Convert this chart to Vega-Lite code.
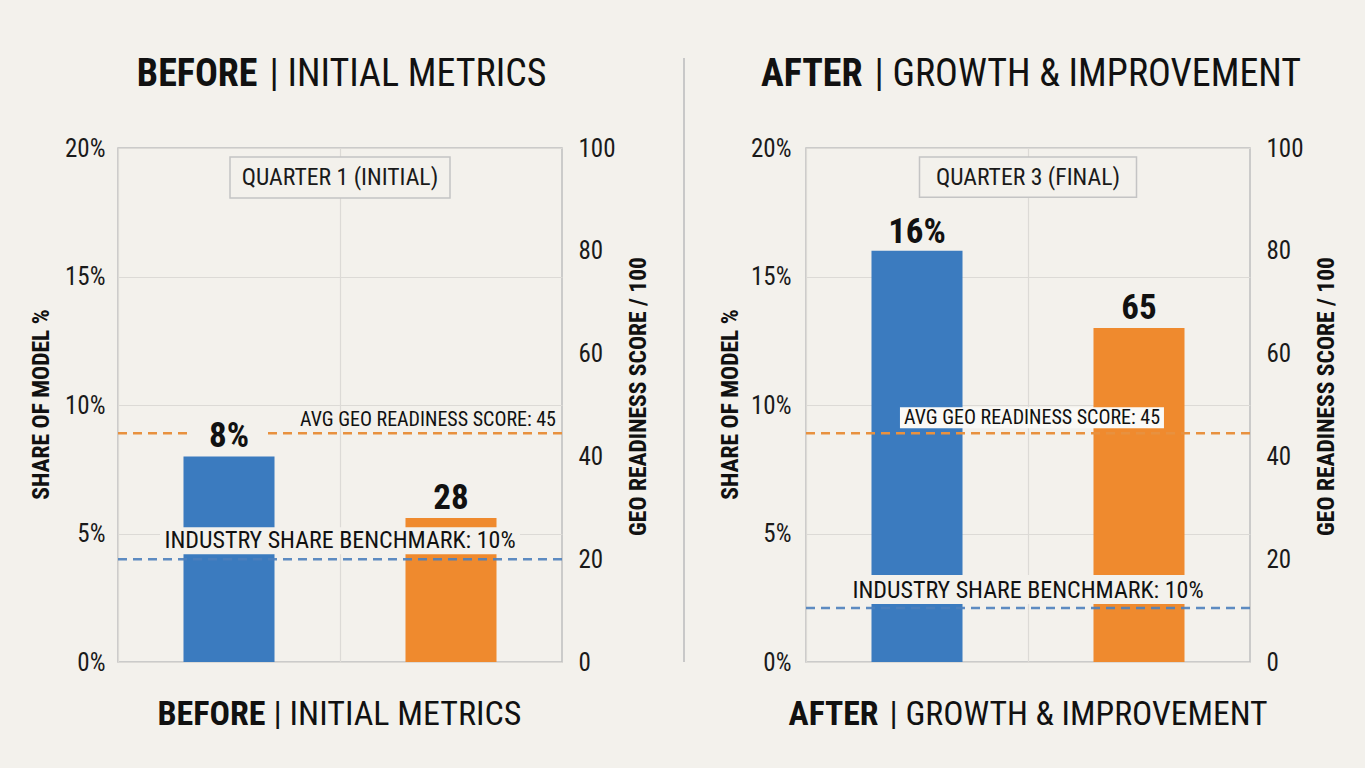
{
  "$schema": "https://vega.github.io/schema/vega-lite/v6.json",
  "background": "#f3f1ec",
  "padding": {"left": 28, "top": 54, "right": 30, "bottom": 40},
  "bounds": "flush",
  "spacing": 121,
  "config": {
    "font": "Liberation Sans Narrow, Roboto Condensed, DejaVu Sans Condensed, sans-serif",
    "view": {"stroke": "#bfbfbf", "strokeWidth": 1.5},
    "axis": {"labelColor": "#1a1a1a", "titleColor": "#111111"}
  },
  "hconcat": [
    {
      "width": 444,
      "height": 514,
      "data": {"values": [
        {"metric": "Share of model %", "value": 8, "label": "8%"},
        {"metric": "GEO readiness score", "value": 28, "label": "28"}
      ]},
      "resolve": {"scale": {"y": "independent"}, "axis": {"x": "independent", "y": "independent"}},
      "layer": [
        {
          "transform": [{"filter": "datum.metric === 'Share of model %'"}],
          "mark": {"type": "bar", "color": "#3b7bbf", "width": {"band": 0.41}},
          "encoding": {
            "x": {"field": "metric", "type": "nominal", "scale": {"domain": ["Share of model %", "GEO readiness score"], "paddingInner": 0, "paddingOuter": 0},
              "axis": {"orient": "bottom", "grid": true, "bandPosition": 0, "gridColor": "#dcdad6", "gridWidth": 1.2, "ticks": false, "labels": false, "domain": false,
                "title": "BEFORE", "titleFontSize": 34, "titleFontWeight": "bold", "titleAlign": "right", "titleBaseline": "middle", "titleX": 147, "titleY": 52}},
            "y": {"field": "value", "type": "quantitative", "scale": {"domain": [0, 20]},
              "axis": {"orient": "left", "values": [0, 5, 10, 15, 20], "labelExpr": "datum.value + '%'", "grid": true, "gridColor": "#dcdad6", "gridWidth": 1.2, "ticks": false, "domain": false,
                "labelFontSize": 25, "labelPadding": 13, "title": "SHARE OF MODEL %", "titleFontSize": 23.5, "titleFontWeight": "bold", "titleAngle": 270, "titleAlign": "center", "titleBaseline": "middle", "titleX": -77, "titleY": 256}}
          }
        },
        {
          "transform": [{"filter": "datum.metric === 'GEO readiness score'"}],
          "mark": {"type": "bar", "color": "#ef8a2e", "width": {"band": 0.41}},
          "encoding": {
            "x": {"field": "metric", "type": "nominal", "scale": {"domain": ["Share of model %", "GEO readiness score"], "paddingInner": 0, "paddingOuter": 0},
              "axis": {"orient": "bottom", "grid": false, "ticks": false, "labels": false, "domain": false,
                "title": "| INITIAL METRICS", "titleFontSize": 34, "titleFontWeight": "normal", "titleAlign": "left", "titleBaseline": "middle", "titleX": 155, "titleY": 52}},
            "y": {"field": "value", "type": "quantitative", "scale": {"domain": [0, 100]},
              "axis": {"orient": "right", "values": [0, 20, 40, 60, 80, 100], "grid": false, "ticks": false, "domain": false,
                "labelFontSize": 25, "labelPadding": 16, "title": "GEO READINESS SCORE / 100", "titleFontSize": 23.5, "titleFontWeight": "bold", "titleAngle": 270, "titleAlign": "center", "titleBaseline": "middle", "titleX": 76, "titleY": 248}}
          }
        },
        {
          "data": {"values": [{"reference": "AVG GEO READINESS SCORE: 45", "score": 44.5}]},
          "mark": {"type": "rule", "color": "#e8913f", "strokeWidth": 2.5, "strokeDash": [9, 6]},
          "encoding": {"y": {"field": "score", "type": "quantitative", "scale": {"domain": [0, 100]}, "axis": null}}
        },
        {
          "data": {"values": [{"reference": "INDUSTRY SHARE BENCHMARK: 10%", "share": 4.0}]},
          "mark": {"type": "rule", "color": "#4c7fbd", "strokeWidth": 2.5, "strokeDash": [9, 6], "opacity": 0.9},
          "encoding": {"y": {"field": "share", "type": "quantitative", "scale": {"domain": [0, 20]}, "axis": null}}
        },
        {
          "transform": [{"filter": "datum.metric === 'Share of model %'"}],
          "mark": {"type": "point", "shape": "M-1,-1L1,-1L1,-0.19L-1,-0.19Z", "size": 5625, "filled": true, "fill": "#f3f1ec", "opacity": 1, "strokeWidth": 0},
          "encoding": {
            "x": {"field": "metric", "type": "nominal", "scale": {"domain": ["Share of model %", "GEO readiness score"], "paddingInner": 0, "paddingOuter": 0}, "axis": null},
            "y": {"field": "value", "type": "quantitative", "scale": {"domain": [0, 20]}, "axis": null}
          }
        },
        {
          "data": {"values": [{"reference": "INDUSTRY SHARE BENCHMARK: 10%", "share": 4.0}]},
          "mark": {"type": "point", "shape": "M-1,-0.178L1,-0.178L1,-0.028L-1,-0.028Z", "size": 129600, "filled": true, "fill": "#f3f1ec", "opacity": 1, "strokeWidth": 0},
          "encoding": {
            "x": {"datum": "GEO readiness score", "type": "nominal", "bandPosition": 0, "scale": {"domain": ["Share of model %", "GEO readiness score"], "paddingInner": 0, "paddingOuter": 0}, "axis": null},
            "y": {"field": "share", "type": "quantitative", "scale": {"domain": [0, 20]}, "axis": null}
          }
        },
        {
          "data": {"values": [{"period": "QUARTER 1 (INITIAL)"}]},
          "mark": {"type": "point", "shape": "M-1,0.082L1,0.082L1,0.455L-1,0.455Z", "size": 48400, "filled": true, "fill": "#f3f1ec", "stroke": "#c4c4c4", "strokeWidth": 1.5, "opacity": 1},
          "encoding": {
            "x": {"datum": "GEO readiness score", "type": "nominal", "bandPosition": 0, "scale": {"domain": ["Share of model %", "GEO readiness score"], "paddingInner": 0, "paddingOuter": 0}, "axis": null},
            "y": {"datum": 20, "type": "quantitative", "scale": {"domain": [0, 20]}, "axis": null}
          }
        },
        {
          "data": {"values": [{"period": "QUARTER 1 (INITIAL)"}]},
          "mark": {"type": "text", "fontSize": 23.7, "color": "#1a1a1a", "baseline": "middle", "dy": 29.5},
          "encoding": {
            "x": {"datum": "GEO readiness score", "type": "nominal", "bandPosition": 0, "scale": {"domain": ["Share of model %", "GEO readiness score"], "paddingInner": 0, "paddingOuter": 0}, "axis": null},
            "y": {"datum": 20, "type": "quantitative", "scale": {"domain": [0, 20]}, "axis": null},
            "text": {"field": "period"}
          }
        },
        {
          "data": {"values": [{"reference": "INDUSTRY SHARE BENCHMARK: 10%", "share": 4.0}]},
          "mark": {"type": "text", "fontSize": 24, "color": "#111111", "baseline": "middle", "dy": -18},
          "encoding": {
            "x": {"datum": "GEO readiness score", "type": "nominal", "bandPosition": 0, "scale": {"domain": ["Share of model %", "GEO readiness score"], "paddingInner": 0, "paddingOuter": 0}, "axis": null},
            "y": {"field": "share", "type": "quantitative", "scale": {"domain": [0, 20]}, "axis": null},
            "text": {"field": "reference"}
          }
        },
        {
          "data": {"values": [{"reference": "AVG GEO READINESS SCORE: 45", "score": 44.5}]},
          "mark": {"type": "text", "fontSize": 20, "color": "#111111", "baseline": "middle", "align": "right", "dx": -6, "dy": -13},
          "encoding": {
            "x": {"datum": "GEO readiness score", "type": "nominal", "bandPosition": 1, "scale": {"domain": ["Share of model %", "GEO readiness score"], "paddingInner": 0, "paddingOuter": 0}, "axis": null},
            "y": {"field": "score", "type": "quantitative", "scale": {"domain": [0, 100]}, "axis": null},
            "text": {"field": "reference"}
          }
        },
        {
          "transform": [{"filter": "datum.metric === 'Share of model %'"}],
          "mark": {"type": "text", "fontSize": 35, "fontWeight": "bold", "color": "#111111", "baseline": "alphabetic", "dy": -9},
          "encoding": {
            "x": {"field": "metric", "type": "nominal", "scale": {"domain": ["Share of model %", "GEO readiness score"], "paddingInner": 0, "paddingOuter": 0},
              "axis": {"orient": "top", "grid": false, "ticks": false, "labels": false, "domain": false,
                "title": "BEFORE", "titleFontSize": 38, "titleFontWeight": "bold", "titleAlign": "right", "titleBaseline": "middle", "titleX": 139, "titleY": -74}},
            "y": {"field": "value", "type": "quantitative", "scale": {"domain": [0, 20]}, "axis": null},
            "text": {"field": "label"}
          }
        },
        {
          "transform": [{"filter": "datum.metric === 'GEO readiness score'"}],
          "mark": {"type": "text", "fontSize": 35, "fontWeight": "bold", "color": "#111111", "baseline": "alphabetic", "dy": -9},
          "encoding": {
            "x": {"field": "metric", "type": "nominal", "scale": {"domain": ["Share of model %", "GEO readiness score"], "paddingInner": 0, "paddingOuter": 0},
              "axis": {"orient": "top", "grid": false, "ticks": false, "labels": false, "domain": false,
                "title": "| INITIAL METRICS", "titleFontSize": 38, "titleFontWeight": "normal", "titleAlign": "left", "titleBaseline": "middle", "titleX": 151, "titleY": -74}},
            "y": {"field": "value", "type": "quantitative", "scale": {"domain": [0, 100]}, "axis": null},
            "text": {"field": "label"}
          }
        }
      ]
    },
    {
      "width": 2,
      "height": 514,
      "view": {"stroke": null},
      "data": {"values": [{"divider": "before | after"}]},
      "mark": {"type": "rule", "color": "#c8c8c8", "strokeWidth": 2, "clip": false},
      "encoding": {
        "x": {"datum": 0.5, "type": "quantitative", "scale": {"domain": [0, 1]}, "axis": null},
        "y": {"datum": 0, "type": "quantitative", "scale": {"domain": [0, 1], "range": [514, -90]}, "axis": null},
        "y2": {"datum": 1}
      }
    },
    {
      "width": 444,
      "height": 514,
      "data": {"values": [
        {"metric": "Share of model %", "value": 16, "label": "16%"},
        {"metric": "GEO readiness score", "value": 65, "label": "65"}
      ]},
      "resolve": {"scale": {"y": "independent"}, "axis": {"x": "independent", "y": "independent"}},
      "layer": [
        {
          "transform": [{"filter": "datum.metric === 'Share of model %'"}],
          "mark": {"type": "bar", "color": "#3b7bbf", "width": {"band": 0.41}},
          "encoding": {
            "x": {"field": "metric", "type": "nominal", "scale": {"domain": ["Share of model %", "GEO readiness score"], "paddingInner": 0, "paddingOuter": 0},
              "axis": {"orient": "bottom", "grid": true, "bandPosition": 0, "gridColor": "#dcdad6", "gridWidth": 1.2, "ticks": false, "labels": false, "domain": false,
                "title": "AFTER", "titleFontSize": 33.7, "titleFontWeight": "bold", "titleAlign": "right", "titleBaseline": "middle", "titleX": 72, "titleY": 52}},
            "y": {"field": "value", "type": "quantitative", "scale": {"domain": [0, 20]},
              "axis": {"orient": "left", "values": [0, 5, 10, 15, 20], "labelExpr": "datum.value + '%'", "grid": true, "gridColor": "#dcdad6", "gridWidth": 1.2, "ticks": false, "domain": false,
                "labelFontSize": 25, "labelPadding": 15, "title": "SHARE OF MODEL %", "titleFontSize": 23.5, "titleFontWeight": "bold", "titleAngle": 270, "titleAlign": "center", "titleBaseline": "middle", "titleX": -76, "titleY": 256}}
          }
        },
        {
          "transform": [{"filter": "datum.metric === 'GEO readiness score'"}],
          "mark": {"type": "bar", "color": "#ef8a2e", "width": {"band": 0.41}},
          "encoding": {
            "x": {"field": "metric", "type": "nominal", "scale": {"domain": ["Share of model %", "GEO readiness score"], "paddingInner": 0, "paddingOuter": 0},
              "axis": {"orient": "bottom", "grid": false, "ticks": false, "labels": false, "domain": false,
                "title": "| GROWTH & IMPROVEMENT", "titleFontSize": 33.7, "titleFontWeight": "normal", "titleAlign": "left", "titleBaseline": "middle", "titleX": 83, "titleY": 52}},
            "y": {"field": "value", "type": "quantitative", "scale": {"domain": [0, 100]},
              "axis": {"orient": "right", "values": [0, 20, 40, 60, 80, 100], "grid": false, "ticks": false, "domain": false,
                "labelFontSize": 25, "labelPadding": 16, "title": "GEO READINESS SCORE / 100", "titleFontSize": 23.5, "titleFontWeight": "bold", "titleAngle": 270, "titleAlign": "center", "titleBaseline": "middle", "titleX": 76, "titleY": 248}}
          }
        },
        {
          "data": {"values": [{"reference": "AVG GEO READINESS SCORE: 45", "score": 44.5}]},
          "mark": {"type": "rule", "color": "#e8913f", "strokeWidth": 2.5, "strokeDash": [9, 6]},
          "encoding": {"y": {"field": "score", "type": "quantitative", "scale": {"domain": [0, 100]}, "axis": null}}
        },
        {
          "data": {"values": [{"reference": "INDUSTRY SHARE BENCHMARK: 10%", "share": 2.1}]},
          "mark": {"type": "rule", "color": "#4c7fbd", "strokeWidth": 2.5, "strokeDash": [9, 6], "opacity": 0.9},
          "encoding": {"y": {"field": "share", "type": "quantitative", "scale": {"domain": [0, 20]}, "axis": null}}
        },
        {
          "data": {"values": [{"reference": "INDUSTRY SHARE BENCHMARK: 10%", "share": 2.1}]},
          "mark": {"type": "point", "shape": "M-1,-0.183L1,-0.183L1,-0.022L-1,-0.022Z", "size": 129600, "filled": true, "fill": "#f3f1ec", "opacity": 1, "strokeWidth": 0},
          "encoding": {
            "x": {"datum": "GEO readiness score", "type": "nominal", "bandPosition": 0, "scale": {"domain": ["Share of model %", "GEO readiness score"], "paddingInner": 0, "paddingOuter": 0}, "axis": null},
            "y": {"field": "share", "type": "quantitative", "scale": {"domain": [0, 20]}, "axis": null}
          }
        },
        {
          "data": {"values": [{"reference": "AVG GEO READINESS SCORE: 45", "score": 44.5}]},
          "mark": {"type": "point", "shape": "M-0.97,-0.197L1.03,-0.197L1.03,-0.038L-0.97,-0.038Z", "size": 69696, "filled": true, "fill": "#faf9f6", "opacity": 1, "strokeWidth": 0},
          "encoding": {
            "x": {"datum": "GEO readiness score", "type": "nominal", "bandPosition": 0, "scale": {"domain": ["Share of model %", "GEO readiness score"], "paddingInner": 0, "paddingOuter": 0}, "axis": null},
            "y": {"field": "score", "type": "quantitative", "scale": {"domain": [0, 100]}, "axis": null}
          }
        },
        {
          "data": {"values": [{"period": "QUARTER 3 (FINAL)"}]},
          "mark": {"type": "point", "shape": "M-1,0.082L1,0.082L1,0.455L-1,0.455Z", "size": 47089, "filled": true, "fill": "#f3f1ec", "stroke": "#c4c4c4", "strokeWidth": 1.5, "opacity": 1},
          "encoding": {
            "x": {"datum": "GEO readiness score", "type": "nominal", "bandPosition": 0, "scale": {"domain": ["Share of model %", "GEO readiness score"], "paddingInner": 0, "paddingOuter": 0}, "axis": null},
            "y": {"datum": 20, "type": "quantitative", "scale": {"domain": [0, 20]}, "axis": null}
          }
        },
        {
          "data": {"values": [{"period": "QUARTER 3 (FINAL)"}]},
          "mark": {"type": "text", "fontSize": 23.7, "color": "#1a1a1a", "baseline": "middle", "dy": 29.5},
          "encoding": {
            "x": {"datum": "GEO readiness score", "type": "nominal", "bandPosition": 0, "scale": {"domain": ["Share of model %", "GEO readiness score"], "paddingInner": 0, "paddingOuter": 0}, "axis": null},
            "y": {"datum": 20, "type": "quantitative", "scale": {"domain": [0, 20]}, "axis": null},
            "text": {"field": "period"}
          }
        },
        {
          "data": {"values": [{"reference": "INDUSTRY SHARE BENCHMARK: 10%", "share": 2.1}]},
          "mark": {"type": "text", "fontSize": 24, "color": "#111111", "baseline": "middle", "dy": -17},
          "encoding": {
            "x": {"datum": "GEO readiness score", "type": "nominal", "bandPosition": 0, "scale": {"domain": ["Share of model %", "GEO readiness score"], "paddingInner": 0, "paddingOuter": 0}, "axis": null},
            "y": {"field": "share", "type": "quantitative", "scale": {"domain": [0, 20]}, "axis": null},
            "text": {"field": "reference"}
          }
        },
        {
          "data": {"values": [{"reference": "AVG GEO READINESS SCORE: 45", "score": 44.5}]},
          "mark": {"type": "text", "fontSize": 20, "color": "#111111", "baseline": "middle", "dx": 4, "dy": -15},
          "encoding": {
            "x": {"datum": "GEO readiness score", "type": "nominal", "bandPosition": 0, "scale": {"domain": ["Share of model %", "GEO readiness score"], "paddingInner": 0, "paddingOuter": 0}, "axis": null},
            "y": {"field": "score", "type": "quantitative", "scale": {"domain": [0, 100]}, "axis": null},
            "text": {"field": "reference"}
          }
        },
        {
          "transform": [{"filter": "datum.metric === 'Share of model %'"}],
          "mark": {"type": "text", "fontSize": 35, "fontWeight": "bold", "color": "#111111", "baseline": "alphabetic", "dy": -8},
          "encoding": {
            "x": {"field": "metric", "type": "nominal", "scale": {"domain": ["Share of model %", "GEO readiness score"], "paddingInner": 0, "paddingOuter": 0},
              "axis": {"orient": "top", "grid": false, "ticks": false, "labels": false, "domain": false,
                "title": "AFTER", "titleFontSize": 38, "titleFontWeight": "bold", "titleAlign": "right", "titleBaseline": "middle", "titleX": 56, "titleY": -74}},
            "y": {"field": "value", "type": "quantitative", "scale": {"domain": [0, 20]}, "axis": null},
            "text": {"field": "label"}
          }
        },
        {
          "transform": [{"filter": "datum.metric === 'GEO readiness score'"}],
          "mark": {"type": "text", "fontSize": 35, "fontWeight": "bold", "color": "#111111", "baseline": "alphabetic", "dy": -9},
          "encoding": {
            "x": {"field": "metric", "type": "nominal", "scale": {"domain": ["Share of model %", "GEO readiness score"], "paddingInner": 0, "paddingOuter": 0},
              "axis": {"orient": "top", "grid": false, "ticks": false, "labels": false, "domain": false,
                "title": "| GROWTH & IMPROVEMENT", "titleFontSize": 38, "titleFontWeight": "normal", "titleAlign": "left", "titleBaseline": "middle", "titleX": 68, "titleY": -74}},
            "y": {"field": "value", "type": "quantitative", "scale": {"domain": [0, 100]}, "axis": null},
            "text": {"field": "label"}
          }
        }
      ]
    }
  ]
}
